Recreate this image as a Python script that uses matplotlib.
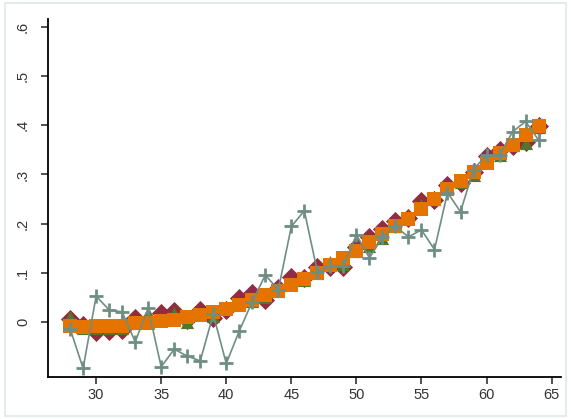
import matplotlib
matplotlib.use("Agg")
import matplotlib.pyplot as plt
from matplotlib.patches import Rectangle

# ages on the x axis
age = list(range(28, 65))

# maroon diamonds
diam = [0.005, -0.007, -0.020, -0.018, -0.017, 0.007, 0.003, 0.017, 0.022, 0.003,
        0.024, 0.007, 0.024, 0.048, 0.058, 0.044, 0.068, 0.092, 0.090, 0.112,
        0.112, 0.112, 0.153, 0.172, 0.188, 0.206, 0.211, 0.245, 0.248, 0.279,
        0.283, 0.304, 0.338, 0.350, 0.357, 0.367, 0.399]
# forest green triangles
tri = [0.010, -0.012, -0.012, -0.012, -0.012, -0.002, 0.017, 0.005, 0.017, 0.000,
       0.016, 0.012, 0.028, 0.036, 0.042, 0.050, 0.062, 0.078, 0.085, 0.100,
       0.122, 0.118, 0.145, 0.155, 0.170, 0.195, 0.215, 0.238, 0.250, 0.270,
       0.285, 0.298, 0.330, 0.340, 0.360, 0.365, 0.397]
# dark orange squares
sq = [-0.008, -0.010, -0.008, -0.008, -0.008, -0.003, -0.002, 0.001, 0.003, 0.010,
      0.014, 0.019, 0.026, 0.034, 0.044, 0.055, 0.063, 0.075, 0.087, 0.100,
      0.115, 0.130, 0.145, 0.162, 0.178, 0.195, 0.210, 0.230, 0.250, 0.270,
      0.287, 0.305, 0.323, 0.343, 0.360, 0.380, 0.398]
# teal crosses (raw)
cross = [-0.014, -0.095, 0.052, 0.024, 0.020, -0.041, 0.027, -0.092, -0.056, -0.070,
         -0.080, 0.015, -0.085, -0.019, 0.041, 0.095, 0.065, 0.194, 0.226, 0.102,
         0.113, 0.113, 0.177, 0.130, 0.172, 0.194, 0.173, 0.187, 0.147, 0.263,
         0.224, 0.310, 0.340, 0.340, 0.387, 0.408, 0.370]

xticks = [30, 35, 40, 45, 50, 55, 60, 65]
yticks = [0, 0.1, 0.2, 0.3, 0.4, 0.5, 0.6]
ylabels = ["0", ".1", ".2", ".3", ".4", ".5", ".6"]

plt.rcParams['font.family'] = ['Liberation Sans', 'DejaVu Sans']

fig = plt.figure(figsize=(5.71, 4.19), dpi=100)
fig.patches.append(Rectangle((0.009, 0.007), 0.982, 0.986, transform=fig.transFigure,
                             fill=False, edgecolor='#e3ebee', linewidth=1.5))
ax = fig.add_axes([0.084, 0.101, 0.898, 0.854])

ax.plot(age, sq, color='#1a476f', lw=0.8, zorder=1)
ax.plot(age, cross, color='#6e8e84', lw=1.2, marker='+', ms=10, mew=2, zorder=5)
ax.scatter(age, diam, marker='D', s=95, color='#902d3e', zorder=2, linewidths=0)
ax.scatter(age, tri, marker='^', s=90, color='#55752f', zorder=3, linewidths=0)
ax.scatter(age, sq, marker='s', s=95, color='#e47300', zorder=4, linewidths=0)

ax.set_xlim(26.3, 65.7)
ax.set_ylim(-0.112, 0.617)
ax.set_xticks(xticks)
ax.set_yticks(yticks)
ax.set_yticklabels(ylabels, rotation=90, va='center')
for s in ['top', 'right']:
    ax.spines[s].set_visible(False)
for s in ['left', 'bottom']:
    ax.spines[s].set_linewidth(1.3)
ax.tick_params(direction='out', length=5, width=1.2, labelsize=10.5, colors='#333333')
ax.tick_params(axis='y', pad=8)

fig.savefig('out.png', dpi=100)
